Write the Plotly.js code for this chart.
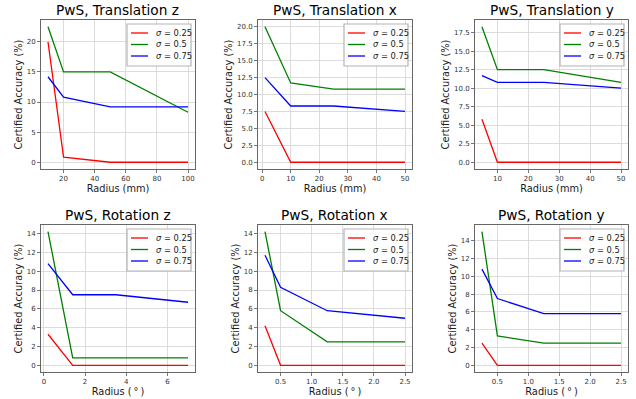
<!DOCTYPE html>
<html>
<head>
<meta charset="utf-8">
<script src="https://cdn.plot.ly/plotly-3.0.1.min.js"></script>
<style>html,body{margin:0;padding:0;background:#fff;}#chart{width:636px;height:399px;}</style>
</head>
<body>
<div id="chart"></div>
<script>
// ---- data ----
const sigmaLabels = ['<i>σ</i> = 0.25', '<i>σ</i> = 0.5', '<i>σ</i> = 0.75'];
const panelTitles = ['PwS, Translation z', 'PwS, Translation x', 'PwS, Translation y',
                     'PwS, Rotation z', 'PwS, Rotation x', 'PwS, Rotation y'];
const xLabels = ['Radius (mm)', 'Radius (mm)', 'Radius (mm)',
                 'Radius (\u2009°\u2009)', 'Radius (\u2009°\u2009)', 'Radius (\u2009°\u2009)'];
const yLabel = 'Certified Accuracy (%)';

const transZRadius = [10, 20, 50, 100];
const transZ_s025 = [20.0, 0.83, 0, 0];
const transZ_s050 = [22.5, 15.0, 15.0, 8.3];
const transZ_s075 = [14.2, 10.8, 9.2, 9.2];

const transXRadius = [1, 10, 25, 50];
const transX_s025 = [7.5, 0, 0, 0];
const transX_s050 = [20.0, 11.7, 10.8, 10.8];
const transX_s075 = [12.5, 8.3, 8.3, 7.5];

const transYRadius = [5, 10, 25, 50];
const transY_s025 = [5.8, 0, 0, 0];
const transY_s050 = [18.3, 12.5, 12.5, 10.8];
const transY_s075 = [11.7, 10.8, 10.8, 10.0];

const rotZRadius = [0.2, 1.4, 3.5, 7];
const rotZ_s025 = [3.3, 0, 0, 0];
const rotZ_s050 = [14.2, 0.8, 0.8, 0.8];
const rotZ_s075 = [10.8, 7.5, 7.5, 6.7];

const rotXRadius = [0.25, 0.5, 1.25, 2.5];
const rotX_s025 = [4.2, 0, 0, 0];
const rotX_s050 = [14.2, 5.8, 2.5, 2.5];
const rotX_s075 = [11.7, 8.3, 5.8, 5.0];

const rotYRadius = [0.25, 0.5, 1.25, 2.5];
const rotY_s025 = [2.5, 0, 0, 0];
const rotY_s050 = [15.0, 3.3, 2.5, 2.5];
const rotY_s075 = [10.8, 7.5, 5.8, 5.8];

// ---- styling ----
const panels = [
  {x: transZRadius, s: [transZ_s025, transZ_s050, transZ_s075], xd: 20, yd: 5, yf: ''},
  {x: transXRadius, s: [transX_s025, transX_s050, transX_s075], xd: 10, yd: 2.5, yf: '.1f'},
  {x: transYRadius, s: [transY_s025, transY_s050, transY_s075], xd: 10, yd: 2.5, yf: '.1f'},
  {x: rotZRadius, s: [rotZ_s025, rotZ_s050, rotZ_s075], xd: 2, yd: 2, yf: ''},
  {x: rotXRadius, s: [rotX_s025, rotX_s050, rotX_s075], xd: 0.5, yd: 2, yf: '', xf: '.1f'},
  {x: rotYRadius, s: [rotY_s025, rotY_s050, rotY_s075], xd: 0.5, yd: 2, yf: '', xf: '.1f'}
];
const colors = ['#ff0000', '#008000', '#0000ff'];
const W = 636, H = 399;
const colPx = [[41, 195], [258, 412], [475, 628]];
const rowPx = [[20, 169], [225, 372]];
const FONT = 'DejaVu Sans, sans-serif';

function pad(arr) {
  const mn = Math.min(...arr), mx = Math.max(...arr);
  const p = (mx - mn) * 0.05;
  return [mn - p, mx + p];
}
const px = v => v / W;
const py = v => 1 - v / H;

const traces = [];
const layout = {
  width: W, height: H,
  margin: {l: 0, r: 0, t: 0, b: 0},
  paper_bgcolor: '#fff', plot_bgcolor: '#fff',
  showlegend: false,
  font: {family: FONT, color: '#262626'},
  annotations: [], shapes: []
};

panels.forEach((p, i) => {
  const r = Math.floor(i / 3), c = i % 3;
  const n = i + 1;
  const xa = 'xaxis' + (n === 1 ? '' : n), ya = 'yaxis' + (n === 1 ? '' : n);
  const xr = 'x' + (n === 1 ? '' : n), yr = 'y' + (n === 1 ? '' : n);
  const allY = [].concat(...p.s);
  const L = colPx[c][0], R = colPx[c][1], T = rowPx[r][0], B = rowPx[r][1];
  const xDom = [px(L), px(R)];
  const yDom = [py(B), py(T)];
  p.s.forEach((ys, k) => {
    traces.push({
      x: p.x, y: ys, type: 'scatter', mode: 'lines',
      name: sigmaLabels[k], xaxis: xr, yaxis: yr,
      line: {color: colors[k], width: 1.3}
    });
  });
  const common = {
    showgrid: true, gridcolor: '#d3d3d3', gridwidth: 0.8,
    zeroline: false, showline: true, linecolor: '#555', linewidth: 0.9, mirror: true,
    ticks: 'outside', ticklen: 3, tickwidth: 0.8, tickcolor: '#555',
    tickfont: {size: 7, family: FONT, color: '#333'}, automargin: false
  };
  layout[xa] = Object.assign({}, common, {
    domain: xDom, anchor: yr, range: pad(p.x), dtick: p.xd, tick0: 0,
    tickformat: p.xf || '',
    title: {text: xLabels[i], font: {size: 9.8, family: FONT, color: '#1a1a1a'}, standoff: 0}
  });
  layout[ya] = Object.assign({}, common, {
    domain: yDom, anchor: xr, range: pad(allY), dtick: p.yd, tick0: 0,
    tickformat: p.yf,
    title: {text: yLabel, font: {size: 9.8, family: FONT, color: '#1a1a1a'}, standoff: 2}
  });
  // legend box (matplotlib style)
  layout.shapes.push({
    type: 'rect', xref: 'paper', yref: 'paper',
    x0: px(R - 68), x1: px(R - 4), y0: py(T + 46), y1: py(T + 4),
    fillcolor: 'rgba(255,255,255,0.85)', line: {color: '#b4b4b4', width: 1.2}, layer: 'above'
  });
  p.s.forEach((ys, k) => {
    const yy = T + 13 + k * 11.5;
    layout.shapes.push({
      type: 'line', xref: 'paper', yref: 'paper',
      x0: px(R - 64), x1: px(R - 47), y0: py(yy), y1: py(yy),
      line: {color: colors[k], width: 1.3}, layer: 'above'
    });
    layout.annotations.push({
      text: sigmaLabels[k], xref: 'paper', yref: 'paper',
      x: px(R - 41), y: py(yy), xanchor: 'left', yanchor: 'middle',
      showarrow: false, font: {size: 8.3, family: FONT, color: '#1a1a1a'}
    });
  });
  layout.annotations.push({
    text: panelTitles[i], xref: 'paper', yref: 'paper',
    x: (xDom[0] + xDom[1]) / 2, y: yDom[1], xanchor: 'center', yanchor: 'bottom',
    yshift: 0, showarrow: false, font: {size: 13.7, family: FONT, color: '#000'}
  });
});

Plotly.newPlot('chart', traces, layout, {staticPlot: true, displayModeBar: false});
</script>
</body>
</html>
